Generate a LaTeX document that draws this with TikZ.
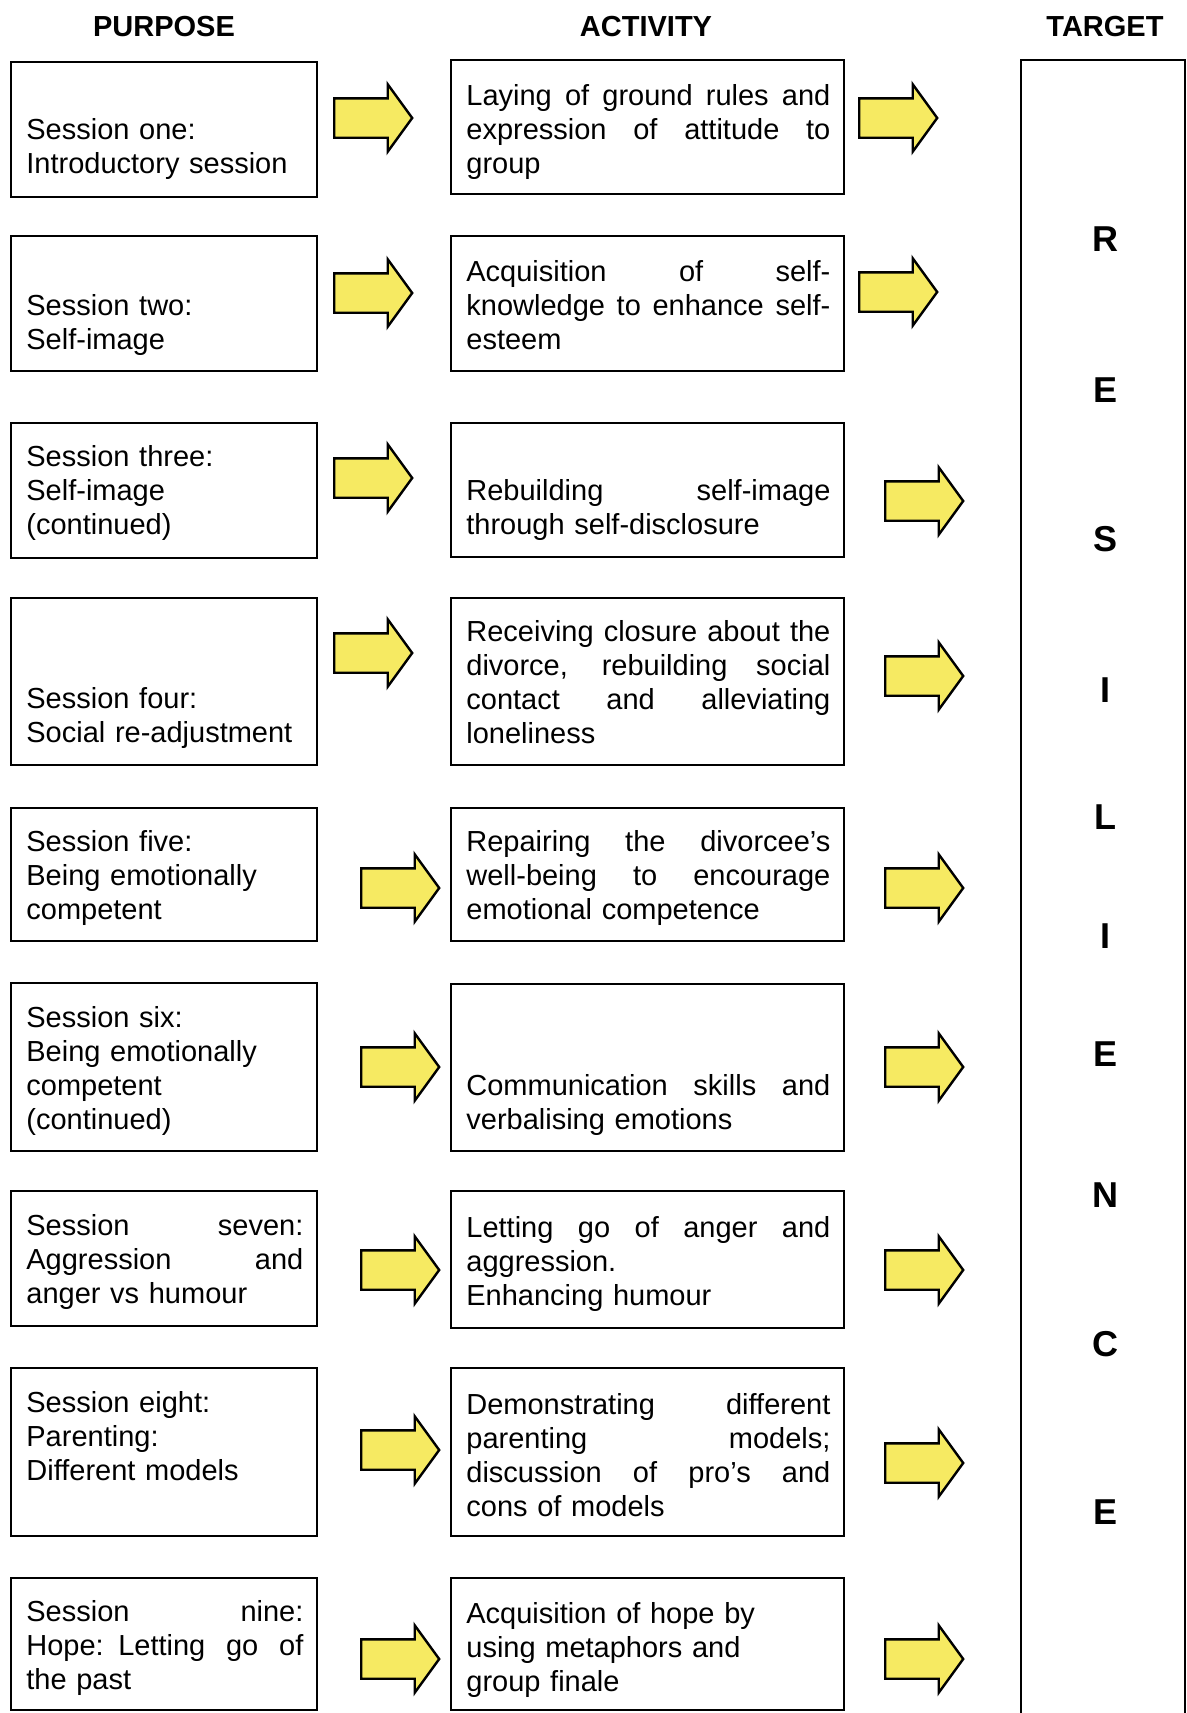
\documentclass[tikz,border=0pt]{standalone}
\usepackage{fontspec}
\setmainfont{Liberation Sans}
\usetikzlibrary{shapes.arrows,fit}
\definecolor{arrowfill}{RGB}{246,234,98}
% justified lines in the two box widths: the word spaces share the spare room
\newcommand\spreadline[2]{\makebox[#1][s]{\spaceskip=\fontdimen2\font plus 1fil\relax #2}}
\newcommand\pline[1]{\spreadline{138.5pt}{#1}}
\newcommand\aline[1]{\spreadline{182pt}{#1}}

\begin{document}
\begin{tikzpicture}[x=0.5pt,y=-0.5pt,
  frame/.style={draw=black, line width=0.7pt, inner sep=0pt},
  txt/.style={anchor=base west, inner sep=0pt, align=left,
    font=\fontsize{14.5}{17}\selectfont},
  ptxt/.style={txt, text width=138.5pt},
  atxt/.style={txt, text width=182pt},
  colhead/.style={font=\fontsize{14.5}{17}\selectfont\bfseries, inner sep=0pt},
  letter/.style={font=\fontsize{18}{20}\selectfont\bfseries, inner sep=0pt},
  blockarrow/.style={single arrow, draw=black, line width=1.2pt, fill=arrowfill,
    inner xsep=0pt, inner ysep=9.25pt, text width=0pt, text height=0pt, text depth=0pt,
    single arrow head extend=7pt, single arrow tip angle=108, minimum height=39pt,
    anchor=tail}
]
\useasboundingbox (0,0) rectangle (1187,1713);

% column headings
\node[colhead] (hp) at (164,27) {PURPOSE};
\node[colhead] (ha) at (646,27) {ACTIVITY};
\node[colhead] (ht) at (1105,27) {TARGET};

% purpose boxes
\node[frame, fit={(11,62) (317,197)}]   (p1) {};
\node[frame, fit={(11,236) (317,371)}]  (p2) {};
\node[frame, fit={(11,423) (317,558)}]  (p3) {};
\node[frame, fit={(11,598) (317,765)}]  (p4) {};
\node[frame, fit={(11,808) (317,941)}]  (p5) {};
\node[frame, fit={(11,983) (317,1151)}] (p6) {};
\node[frame, fit={(11,1191) (317,1326)}] (p7) {};
\node[frame, fit={(11,1368) (317,1536)}] (p8) {};
\node[frame, fit={(11,1578) (317,1710)}] (p9) {};

% activity boxes
\node[frame, fit={(451,60) (844,194)}]   (a1) {};
\node[frame, fit={(451,236) (844,371)}]  (a2) {};
\node[frame, fit={(451,423) (844,557)}]  (a3) {};
\node[frame, fit={(451,598) (844,765)}]  (a4) {};
\node[frame, fit={(451,808) (844,941)}]  (a5) {};
\node[frame, fit={(451,984) (844,1151)}] (a6) {};
\node[frame, fit={(451,1191) (844,1328)}] (a7) {};
\node[frame, fit={(451,1368) (844,1536)}] (a8) {};
\node[frame, fit={(451,1578) (844,1710)}] (a9) {};

% target column (runs off the lower edge)
\node[frame, fit={(1021,60) (1185,1740)}] (tg) {};

% purpose texts
\node[ptxt] (p1t) at (26,139)  {Session one:\\Introductory session};
\node[ptxt] (p2t) at (26,315)  {Session two:\\Self-image};
\node[ptxt] (p3t) at (26,466)  {Session three:\\Self-image\\(continued)};
\node[ptxt] (p4t) at (26,708)  {Session four:\\Social re-adjustment};
\node[ptxt] (p5t) at (26,851)  {Session five:\\Being emotionally\\competent};
\node[ptxt] (p6t) at (26,1027) {Session six:\\Being emotionally\\competent\\(continued)};
\node[ptxt] (p7t) at (26,1235) {\pline{Session seven:}\\\pline{Aggression and}\\anger vs humour};
\node[ptxt] (p8t) at (26,1412) {Session eight:\\Parenting:\\Different models};
\node[ptxt] (p9t) at (26,1621) {\pline{Session nine:}\\\pline{Hope: Letting go of}\\the past};

% activity texts
\node[atxt] (a1t) at (466,105)  {\aline{Laying of ground rules and}\\\aline{expression of attitude to}\\group};
\node[atxt] (a2t) at (466,281)  {\aline{Acquisition of self-}\\\aline{knowledge to enhance self-}\\esteem};
\node[atxt] (a3t) at (466,500)  {\aline{Rebuilding self-image}\\through self-disclosure};
\node[atxt] (a4t) at (466,641)  {\aline{Receiving closure about the}\\\aline{divorce, rebuilding social}\\\aline{contact and alleviating}\\loneliness};
\node[atxt] (a5t) at (466,851)  {\aline{Repairing the divorcee’s}\\\aline{well-being to encourage}\\emotional competence};
\node[atxt] (a6t) at (466,1095) {\aline{Communication skills and}\\verbalising emotions};
\node[atxt] (a7t) at (466,1237) {\aline{Letting go of anger and}\\aggression.\\Enhancing humour};
\node[atxt] (a8t) at (466,1414) {\aline{Demonstrating different}\\\aline{parenting models;}\\\aline{discussion of pro’s and}\\cons of models};
\node[atxt] (a9t) at (466,1623) {Acquisition of hope by\\using metaphors and\\group finale};

% arrows from purpose to activity (placed by their tails)
\node[blockarrow] (pa1) at (333,118)  {};
\node[blockarrow] (pa2) at (333,293)  {};
\node[blockarrow] (pa3) at (333,478)  {};
\node[blockarrow] (pa4) at (333,653)  {};
\node[blockarrow] (pa5) at (360,888)  {};
\node[blockarrow] (pa6) at (360,1067) {};
\node[blockarrow] (pa7) at (360,1270) {};
\node[blockarrow] (pa8) at (360,1450) {};
\node[blockarrow] (pa9) at (360,1659) {};

% arrows from activity to target
\node[blockarrow] (at1) at (858,118)  {};
\node[blockarrow] (at2) at (858,292)  {};
\node[blockarrow] (at3) at (884,501)  {};
\node[blockarrow] (at4) at (884,676)  {};
\node[blockarrow] (at5) at (884,888)  {};
\node[blockarrow] (at6) at (884,1067) {};
\node[blockarrow] (at7) at (884,1270) {};
\node[blockarrow] (at8) at (884,1463) {};
\node[blockarrow] (at9) at (884,1659) {};

% the target word, spelled down the column
\node[letter] (l1)  at (1105,239)  {R};
\node[letter] (l2)  at (1105,390)  {E};
\node[letter] (l3)  at (1105,539)  {S};
\node[letter] (l4)  at (1105,690)  {I};
\node[letter] (l5)  at (1105,817)  {L};
\node[letter] (l6)  at (1105,936)  {I};
\node[letter] (l7)  at (1105,1054) {E};
\node[letter] (l8)  at (1105,1195) {N};
\node[letter] (l9)  at (1105,1344) {C};
\node[letter] (l10) at (1105,1512) {E};
\end{tikzpicture}
\end{document}
